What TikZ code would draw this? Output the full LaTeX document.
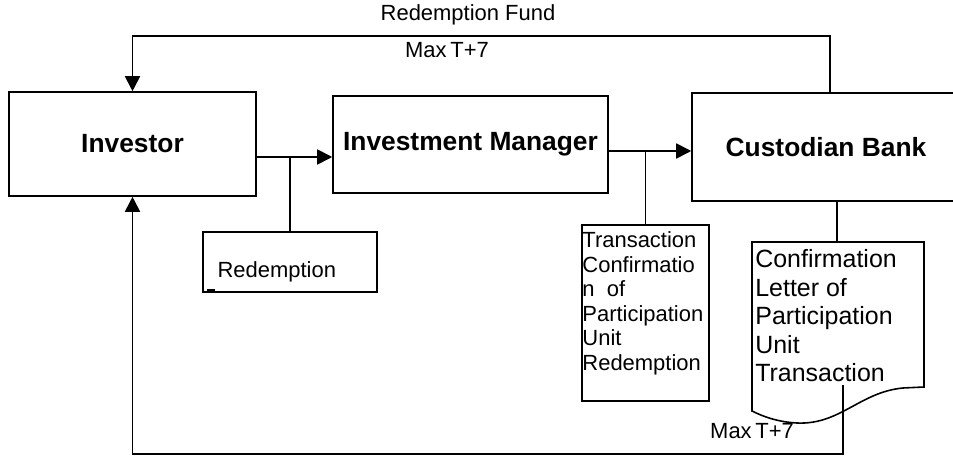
\documentclass[tikz,border=0pt]{standalone}
\usepackage{fontspec}
\setmainfont{Liberation Sans}
\usetikzlibrary{arrows.meta,positioning}

\begin{document}
\begin{tikzpicture}[x=0.02cm, y=-0.02cm,
    box/.style={draw, line width=0.9pt, inner sep=0pt},
    title/.style={font=\bfseries\fontsize{15}{17}\selectfont},
    plain/.style={font=\fontsize{12.5}{14}\selectfont},
    flow/.style={line width=1pt, -{Triangle[length=0.3cm,width=0.3cm]}},
    wire/.style={line width=1pt}]
    \useasboundingbox (0,0) rectangle (953,456);
    % Main boxes
    \node[box, title, minimum width=4.94cm, minimum height=2.08cm] (investor) at (132.5,144) {Investor};
    \node[box, title, minimum width=5.5cm, minimum height=1.94cm] (manager) at (470.5,144.5) {Investment Manager};
    \node[box, title, minimum width=5.36cm, minimum height=2.16cm] (custodian) at (826,147) {Custodian Bank};
    % Forms under the flow
    \node[box, minimum width=3.48cm, minimum height=1.2cm] (redbox) at (290,262) {};
    \node[plain, anchor=west, inner sep=0pt] (redtext) at ([xshift=0.3cm,yshift=-0.2cm]redbox.west) {Redemption};
    \draw[line width=1pt] ([xshift=0.1cm,yshift=0.06cm]redbox.south west) -- ++(8,0);
    \node[box, minimum width=2.54cm, minimum height=3.52cm] (tcbox) at (645.5,313) {};
    \node[plain, anchor=north west, align=left, inner xsep=0.5pt, inner ysep=4pt] (tctext) at (tcbox.north west) {Transaction\\Confirmatio\\n\ \ of\\Participation\\Unit\\Redemption};
    % Confirmation letter (document shape)
    \node[anchor=north west, align=left, inner xsep=0.06cm, inner ysep=0.14cm, font=\fontsize{14.2}{16.3}\selectfont] (letter) at (752,242) {Confirmation\\Letter of\\Participation\\Unit\\Transaction};
    \draw[line width=0.9pt] (752,242) -- (924,242) -- (924,387) -- (903,388)
        .. controls (860,392) and (840,425) .. (797,423)
        .. controls (777,422) and (762,416) .. (752,411) -- cycle;
    % Subscription flow
    \draw[flow] ([yshift=-0.26cm]investor.east) coordinate (invout) -- (invout -| manager.west);
    \draw[wire] (redbox.north) -- (redbox.north |- invout);
    \draw[flow] ([yshift=-0.13cm]manager.east) coordinate (mgrout) -- (mgrout -| custodian.west);
    \draw[wire] (tcbox.north) -- (tcbox.north |- mgrout);
    \draw[wire] ([xshift=0.22cm]custodian.south) coordinate (cbdown) -- (cbdown |- letter.north);
    % Redemption fund back to investor
    \coordinate (fundtop) at (0,36);
    \draw[flow] ([xshift=0.08cm]custodian.north) coordinate (fundout) -- (fundout |- fundtop) -| (investor.north);
    \node[plain] (fundlbl) at (468,15) {Redemption Fund};
    \node[plain] (fundtime) at (447,50) {Max\,T+7};
    % Letter back to investor
    \coordinate (letterpin) at (843,385);
    \coordinate (floor) at (0,454);
    \draw[flow] (letterpin) -- (letterpin |- floor) -| (investor.south);
    \node[plain] (lettertime) at (752,431) {Max\,T+7};
\end{tikzpicture}
\end{document}
